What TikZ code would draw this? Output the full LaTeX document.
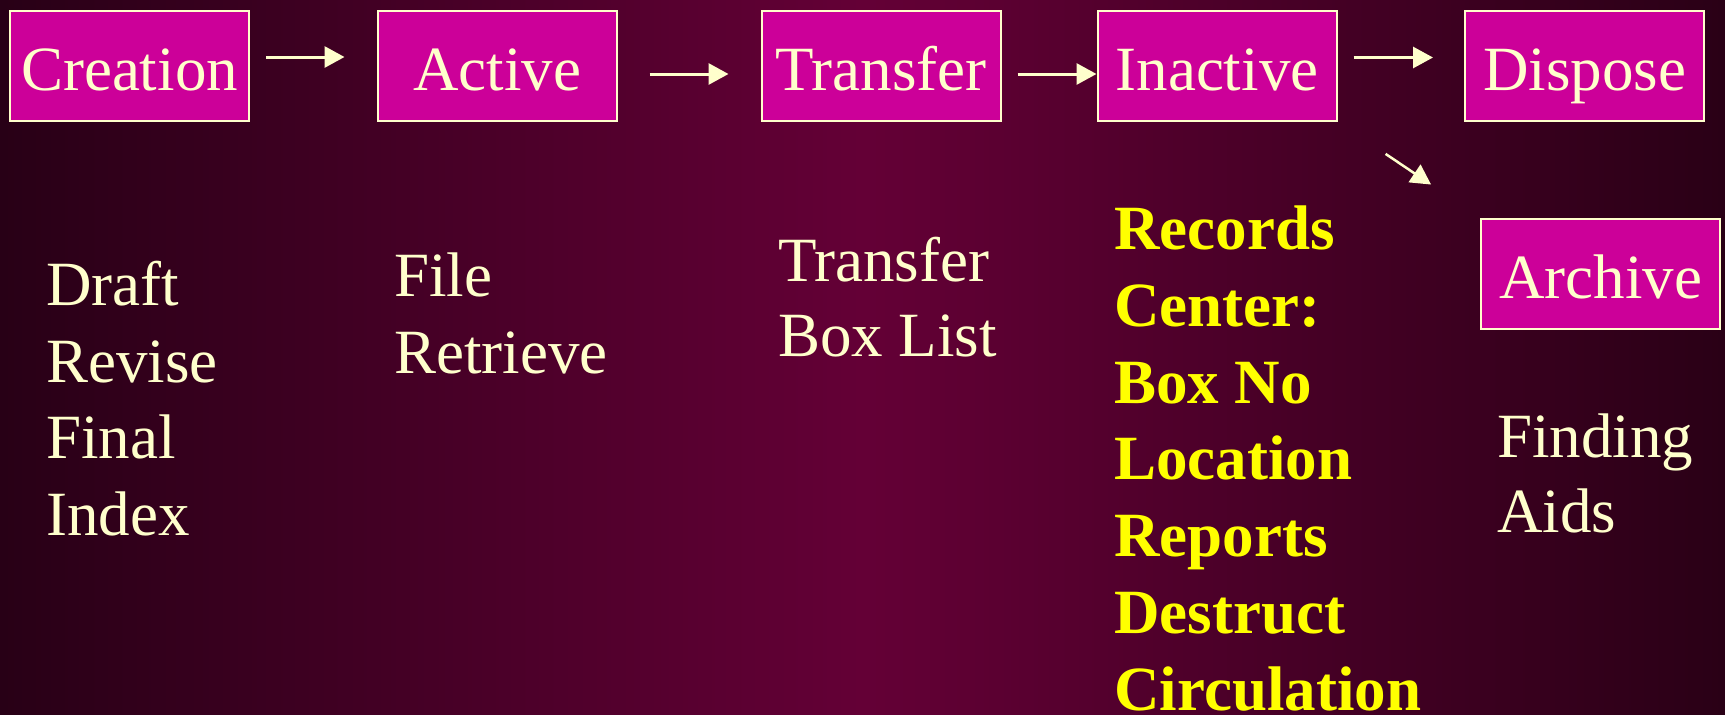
\documentclass[tikz,border=0pt]{standalone}
\usepackage{fontspec}
\setmainfont{Liberation Serif}
\usetikzlibrary{arrows.meta}
\definecolor{boxfill}{HTML}{CC0099}
\definecolor{cream}{HTML}{FFFFCC}
\definecolor{hiyellow}{HTML}{FFFF00}
\definecolor{bgleft}{HTML}{280016}
\definecolor{bgmid}{HTML}{640036}
\definecolor{bgright}{HTML}{2A0016}
\begin{document}
\begin{tikzpicture}[x=1pt,y=-1pt,
  stage/.style={draw=cream, line width=2pt, fill=boxfill, text=cream,
    minimum width=239pt, minimum height=110pt, inner sep=0pt,
    font=\fontsize{63pt}{76pt}\selectfont, text height=49pt, text depth=0pt},
  arr/.style={draw=cream, line width=3pt, -{Triangle[length=20pt,width=21pt]}},
  listtext/.style={text=cream, inner sep=0pt, align=left, anchor=base west,
    font=\fontsize{63pt}{76.5pt}\selectfont},
  boldlist/.style={text=hiyellow, inner sep=0pt, align=left, anchor=base west,
    font=\fontsize{63pt}{76.7pt}\selectfont\bfseries}]
\shade[left color=bgleft, right color=bgright, middle color=bgmid] (0,0) rectangle (1725,715);
\useasboundingbox (0,0) rectangle (1725,715);

\node[stage] (creation) at (129.5,65.5) {Creation};
\node[stage] (active) at (497,65.5) {Active};
\node[stage] (transfer) at (881,65.5) {Transfer};
\node[stage] (inactive) at (1217,65.5) {Inactive};
\node[stage] (dispose) at (1584.5,65.5) {Dispose};
\node[stage] (archive) at (1600.5,273.5) {Archive};

\draw[arr, shorten <=16pt, shorten >=32pt] ([yshift=8.5pt]creation.east) -- ([yshift=8.5pt]active.west);
\draw[arr, shorten <=32pt, shorten >=32pt] ([yshift=-8.5pt]active.east) -- ([yshift=-8.5pt]transfer.west);
\draw[arr, shorten <=16pt, shorten >=0pt] ([yshift=-8.5pt]transfer.east) -- ([yshift=-8.5pt]inactive.west);
\draw[arr, shorten <=16pt, shorten >=31pt] ([yshift=8pt]inactive.east) -- ([yshift=8pt]dispose.west);
\draw[arr, line width=2.5pt, shorten <=58pt, shorten >=59pt] (inactive.south east) -- (archive.north west);

\node[listtext] (creationlist) at (46,535) {Draft\\Revise\\Final\\Index};
\node[listtext] (activelist) at (394,373.3) {File\\Retrieve};
\node[listtext, font=\fontsize{63pt}{75pt}\selectfont] (transferlist) at (778,356.7) {Transfer\\Box List};
\node[boldlist] (inactivelist) at (1114,710) {Records\\Center:\\Box No\\Location\\Reports\\Destruct\\Circulation};
\node[listtext, font=\fontsize{63pt}{75pt}\selectfont] (archivelist) at (1497,532) {Finding\\Aids};
\end{tikzpicture}
\end{document}
